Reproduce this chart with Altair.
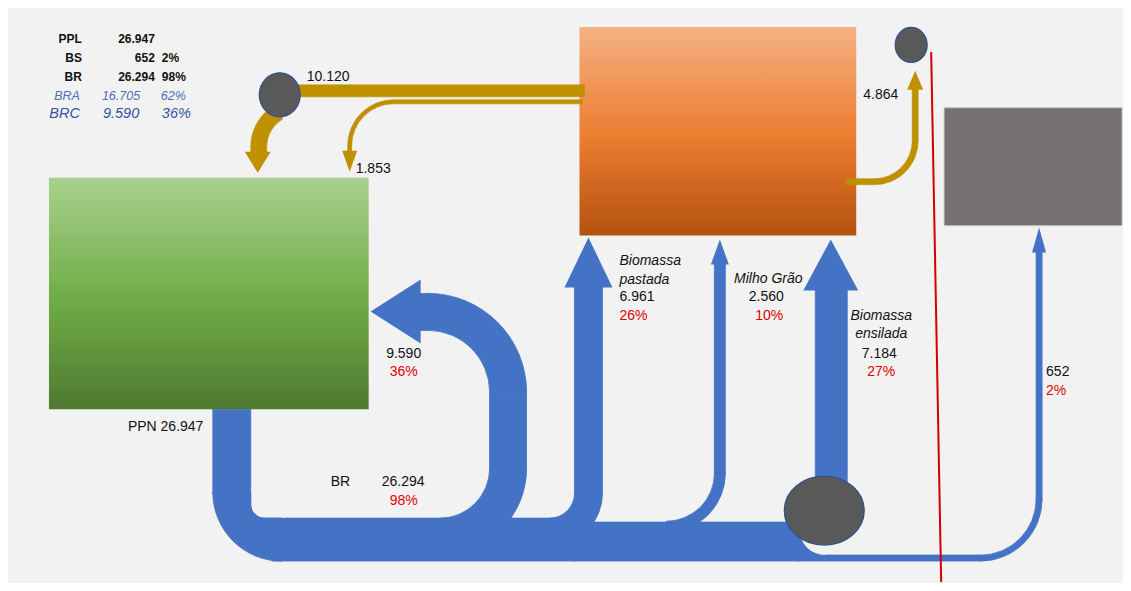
import math
import altair as alt
import pandas as pd

# ---------------- canvas ----------------
W, H = 1115, 575
X0, X1, Y0, Y1 = 8, 1123, 8, 583
BLUE = "#4472c4"
GOLD = "#bf9000"
BG = "#f2f2f2"
RED = "#e00000"
INK = "#111111"
FONT = "Liberation Sans"
PI = math.pi

# ---------------- nodes (boxes) ----------------
box_x0 = [49, 580, 945]
box_x1 = [369, 857, 1123]
box_y0 = [178, 27, 108]
box_y1 = [410, 236, 226]
green_stops = ["#a9d18e", "#70ad47", "#4e7a30"]
orange_stops = ["#f4b183", "#ed7d31", "#b3520f"]
gray_box = "#767171"

# ---------------- blue flows ----------------
# straight segments: x0, x1, y0, y1
blue_x0 = [213, 272, 574, 490, 420, 575, 715, 816, 798, 1037, 799]
blue_x1 = [251, 576, 800, 527, 429, 603, 726, 848, 982, 1043, 825]
blue_y0 = [410, 519, 523, 393, 294, 287, 264, 290, 556, 252, 530]
blue_y1 = [495, 562, 562, 470, 331, 495, 475, 505, 562, 501, 556]
# bends: centre, inner/outer radius, start/end angle
barc_cx = [282, 440, 428, 550, 667, 981]
barc_cy = [493, 469, 393, 494, 474, 500]
barc_ri = [0, 50, 62, 25, 48, 56]
barc_ro = [69, 87, 99, 53, 59, 62]
barc_t0 = [PI, PI / 2, 0, PI / 2, PI / 2, PI / 2]
barc_t1 = [1.5 * PI, PI, PI / 2, PI, PI, PI]
# background cut-outs (rounded inner corners)
cut_x0, cut_x1, cut_y0, cut_y1, cut_r = [251.5], [285], [488], [518.5], [13]
cutarc_cx, cutarc_cy, cutarc_r = [826], [530], [26]

# ---------------- gold flows ----------------
gold_x0 = [280, 394, 348, 251, 847, 913]
gold_x1 = [585, 583, 352, 267, 875, 919]
gold_y0 = [85, 100, 146, 147, 179, 89]
gold_y1 = [97, 104, 152, 153, 185, 141]
garc_cx = [299, 394, 875]
garc_cy = [147, 146, 141]
garc_ri = [32, 42, 38]
garc_ro = [48, 46, 44]
garc_t0 = [1.5 * PI, 1.5 * PI, PI / 2]
garc_t1 = [5.76, 2 * PI, PI]

# ---------------- arrow heads ----------------
head_x = [421, 589, 720.5, 831.5, 1040, 258, 350, 916]
head_y = [312, 288, 265, 291, 253, 152, 151, 90]
head_hw = [32, 24, 9, 27.5, 7, 13, 7.5, 8]
head_len = [50, 50, 25, 51, 25, 21, 21, 19]
head_dir = ["left", "up", "up", "up", "up", "down", "down", "up"]
head_col = [BLUE] * 5 + [GOLD] * 3

# ---------------- connector dots ----------------
dot_x = [280, 912, 825]
dot_y = [95, 45, 511.5]
dot_rx = [20.5, 16, 40]
dot_ry = [22, 17.5, 34.5]

# ---------------- divider ----------------
div_x, div_y, div_x2, div_y2 = [932], [52], [942], [583]

# ---------------- summary table (top left) ----------------
tab_text = ["PPL", "26.947", "BS", "652", "2%", "BR", "26.294", "98%",
            "BRA", "16.705", "62%", "BRC", "9.590", "36%"]
tab_x = [82, 155, 82, 155, 162, 82, 155, 162, 80, 102, 161, 80, 103, 162]
tab_y = [39, 39, 58, 58, 58, 77, 77, 77, 96, 96, 96, 114, 114, 114]
tab_align = ["right", "right", "right", "right", "left", "right", "right", "left",
             "right", "left", "left", "right", "left", "left"]
tab_weight = ["bold"] * 8 + ["normal"] * 6
tab_style = ["normal"] * 8 + ["italic"] * 6
tab_size = [12] * 8 + [12.5] * 3 + [14.5] * 3
tab_color = [INK] * 8 + ["#4f6fb3"] * 3 + ["#2f55a3"] * 3

# ---------------- flow labels ----------------
lab_text = ["10.120", "1.853", "4.864", "PPN 26.947", "9.590", "36%",
            "BR", "26.294", "98%",
            "Biomassa", "pastada", "6.961", "26%",
            "Milho Grão", "2.560", "10%",
            "Biomassa", "ensilada", "7.184", "27%",
            "652", "2%"]
lab_x = [307, 356, 864, 128, 404, 404,
         331, 382, 404,
         620, 620, 620, 620,
         769, 767, 770,
         882, 882, 880, 882,
         1047, 1047]
lab_y = [77, 169, 95, 428, 355, 373,
         483, 483, 502,
         261, 280, 298, 317,
         279, 298, 317,
         317, 335, 355, 373,
         373, 392]
lab_align = ["left", "left", "left", "left", "center", "center",
             "left", "left", "center",
             "left", "left", "left", "left",
             "center", "center", "center",
             "center", "center", "center", "center",
             "left", "left"]
lab_style = ["normal"] * 9 + ["italic", "italic", "normal", "normal",
                              "italic", "normal", "normal",
                              "italic", "italic", "normal", "normal",
                              "normal", "normal"]
lab_color = [INK, INK, INK, INK, INK, RED,
             INK, INK, RED,
             INK, INK, INK, RED,
             INK, INK, RED,
             INK, INK, INK, RED,
             INK, RED]

# ================= helpers =================
xs = alt.Scale(domain=[X0, X1], nice=False, zero=False)
ys = alt.Scale(domain=[Y0, Y1], nice=False, zero=False, reverse=True)


def X(f):
    return alt.X(f"{f}:Q", scale=xs, axis=None)


def Y(f):
    return alt.Y(f"{f}:Q", scale=ys, axis=None)


def rects(x0, x1, y0, y1, **mk):
    df = pd.DataFrame({"x0": x0, "x1": x1, "y0": y0, "y1": y1})
    return alt.Chart(df).mark_rect(**mk).encode(
        x=X("x0"), x2=alt.X2("x1:Q"), y=Y("y0"), y2=alt.Y2("y1:Q"))


def arcs(cx, cy, ri, ro, t0, t1, color, sw=0.8):
    df = pd.DataFrame({"cx": cx, "cy": cy, "ri": ri, "ro": ro, "t0": t0, "t1": t1})
    return alt.Chart(df).mark_arc(color=color, stroke=color, strokeWidth=sw).encode(
        x=X("cx"), y=Y("cy"),
        theta=alt.Theta("t0:Q", scale=None, stack=False),
        theta2=alt.Theta2("t1:Q"),
        radius=alt.Radius("ro:Q", scale=None),
        radius2=alt.Radius2("ri:Q"),
    )


def head_path(d, ratio):
    if d == "up":
        return f"M-1,0L1,0L0,-{ratio:.4f}Z"
    if d == "down":
        return f"M-1,0L1,0L0,{ratio:.4f}Z"
    return f"M0,-1L0,1L-{ratio:.4f},0Z"


def ellipse_path(k):
    c = 0.5523
    return (f"M-1,0C-1,{-c * k:.4f} {-c},{-k:.4f} 0,{-k:.4f}"
            f"C{c},{-k:.4f} 1,{-c * k:.4f} 1,0"
            f"C1,{c * k:.4f} {c},{k:.4f} 0,{k:.4f}"
            f"C{-c},{k:.4f} -1,{c * k:.4f} -1,0Z")


def text_layers(text, x, y, align, weight, style, size, color):
    df = pd.DataFrame({"t": text, "x": x, "y": y, "a": align, "w": weight,
                       "st": style, "s": size, "c": color})
    out = []
    for (a, w, st), g in df.groupby(["a", "w", "st"]):
        out.append(alt.Chart(g).mark_text(
            align=a, baseline="middle", font=FONT, fontWeight=w, fontStyle=st
        ).encode(x=X("x"), y=Y("y"), text="t:N",
                 color=alt.Color("c:N", scale=None),
                 size=alt.Size("s:Q", scale=None)))
    return out


layers = []

# blue flows
layers.append(rects(blue_x0, blue_x1, blue_y0, blue_y1, color=BLUE, stroke=BLUE, strokeWidth=0.8))
layers.append(arcs(barc_cx, barc_cy, barc_ri, barc_ro, barc_t0, barc_t1, BLUE))
for i in range(len(cut_x0)):
    layers.append(rects([cut_x0[i]], [cut_x1[i]], [cut_y0[i]], [cut_y1[i]],
                        color=BG, cornerRadiusBottomLeft=cut_r[i]))
layers.append(arcs(cutarc_cx, cutarc_cy, [0] * len(cutarc_cx), cutarc_r,
                   [PI] * len(cutarc_cx), [1.5 * PI] * len(cutarc_cx), BG, sw=0))

# boxes
grad = lambda stops: alt.Gradient(
    gradient="linear",
    stops=[alt.GradientStop(color=stops[0], offset=0),
           alt.GradientStop(color=stops[1], offset=0.52),
           alt.GradientStop(color=stops[2], offset=1)],
    x1=0, x2=0, y1=0, y2=1)
layers.append(rects([box_x0[0]], [box_x1[0]], [box_y0[0]], [box_y1[0]], color=grad(green_stops)))
layers.append(rects([box_x0[1]], [box_x1[1]], [box_y0[1]], [box_y1[1]], color=grad(orange_stops)))
layers.append(rects([box_x0[2]], [box_x1[2]], [box_y0[2]], [box_y1[2]], color=gray_box,
                    stroke="#bdbdbd", strokeWidth=0.8))

# gold flows
layers.append(rects(gold_x0, gold_x1, gold_y0, gold_y1, color=GOLD, stroke=GOLD, strokeWidth=0.6))
layers.append(arcs(garc_cx, garc_cy, garc_ri, garc_ro, garc_t0, garc_t1, GOLD, sw=0.6))

# arrow heads
hdf = pd.DataFrame({
    "x": head_x, "y": head_y,
    "p": [head_path(d, l / w) for d, l, w in zip(head_dir, head_len, head_hw)],
    "s": [(2 * w) ** 2 for w in head_hw],
    "c": head_col,
})
layers.append(alt.Chart(hdf).mark_point(filled=True, opacity=1).encode(
    x=X("x"), y=Y("y"), shape=alt.Shape("p:N", scale=None),
    size=alt.Size("s:Q", scale=None), color=alt.Color("c:N", scale=None)))

# dots
ddf = pd.DataFrame({
    "x": dot_x, "y": dot_y,
    "p": [ellipse_path(ry / rx) for rx, ry in zip(dot_rx, dot_ry)],
    "s": [(2 * rx) ** 2 for rx in dot_rx],
})
layers.append(alt.Chart(ddf).mark_point(
    filled=True, opacity=1, color="#595959", stroke="#2f528f", strokeWidth=1.2
).encode(x=X("x"), y=Y("y"), shape=alt.Shape("p:N", scale=None),
         size=alt.Size("s:Q", scale=None)))

# divider
rdf = pd.DataFrame({"x": div_x, "y": div_y, "x2": div_x2, "y2": div_y2})
layers.append(alt.Chart(rdf).mark_rule(color="#d40000", strokeWidth=2).encode(
    x=X("x"), y=Y("y"), x2=alt.X2("x2:Q"), y2=alt.Y2("y2:Q")))

# texts
layers += text_layers(tab_text, tab_x, tab_y, tab_align, tab_weight, tab_style,
                      tab_size, tab_color)
layers += text_layers(lab_text, lab_x, lab_y, lab_align, ["normal"] * len(lab_text),
                      lab_style, [14] * len(lab_text), lab_color)

chart = alt.layer(*layers).properties(
    width=W, height=H, padding=0, background=BG,
    autosize=alt.AutoSizeParams(type="fit", contains="padding"),
).configure_view(strokeWidth=0)

chart.save("out.html", embed_options={"renderer": "svg", "actions": False})
